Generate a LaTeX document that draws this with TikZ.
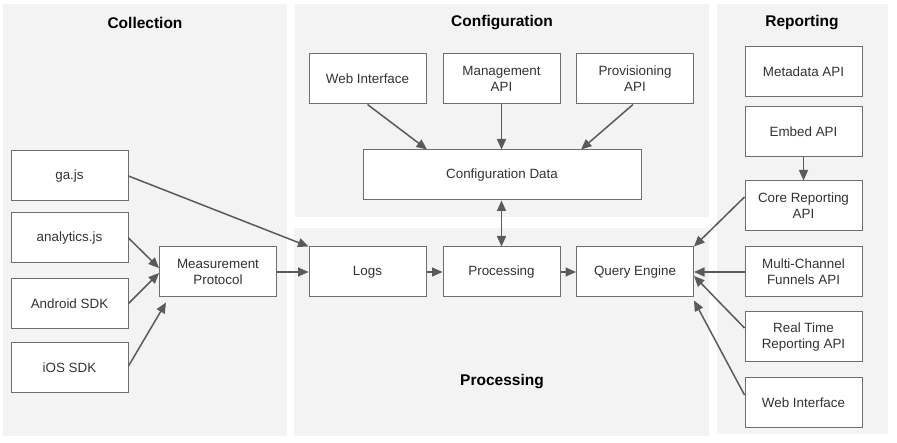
\documentclass[tikz,border=0pt]{standalone}
\usepackage{fontspec}
\setmainfont{Liberation Sans}
\usetikzlibrary{arrows.meta}
\definecolor{panelgray}{HTML}{F3F3F3}
\definecolor{boxline}{HTML}{6E6E6E}
\definecolor{arrowgray}{HTML}{5A5A5A}
\begin{document}
\begin{tikzpicture}[x=1pt,y=-1pt,
  panel/.style={fill=panelgray,draw=none},
  title/.style={font=\fontsize{15.5}{18}\selectfont\bfseries,text=black},
  box/.style={draw=boxline,line width=1pt,fill=white,minimum width=117pt,minimum height=50pt,inner sep=0pt,align=center,font=\fontsize{13.4}{16}\selectfont,text=black!80},
  conn/.style={draw=arrowgray,line width=1.5pt,-{Triangle[length=10.5pt,width=9pt]}},
  dconn/.style={draw=arrowgray,line width=1.5pt,{Triangle[length=10.5pt,width=9pt]}-{Triangle[length=10.5pt,width=9pt]}}]
\useasboundingbox (0,0) rectangle (897,443);
\fill[white] (0,0) rectangle (897,443);
% panels
\path[panel] (3,4) rectangle (287,436);
\path[panel] (295,4) rectangle (709,217);
\path[panel] (294,228) rectangle (709,436);
\path[panel] (717,4) rectangle (888,434);
% titles
\node[title] (tcol) at (145,23) {Collection};
\node[title] (tcfg) at (502,23) {Configuration};
\node[title] (trep) at (802,23) {Reporting};
\node[title] (tproc) at (502,382) {Processing};
% collection
\node[box] (gajs) at (69.5,176) {ga.js};
\node[box] (analytics) at (69.5,238) {analytics.js};
\node[box] (android) at (69.5,303.5) {Android SDK};
\node[box] (ios) at (69.5,368) {iOS SDK};
\node[box] (meas) at (218,272) {Measurement\\Protocol};
% processing
\node[box] (logs) at (367.5,272) {Logs};
\node[box] (proc) at (501.5,272) {Processing};
\node[box] (query) at (635,272) {Query Engine};
% configuration
\node[box] (cweb) at (367.5,79) {Web Interface};
\node[box] (mgmt) at (501.5,79) {Management\\API};
\node[box] (prov) at (635,79) {Provisioning\\API};
\node[box,minimum width=278pt] (cdata) at (502,175) {Configuration Data};
% reporting
\node[box] (meta) at (803.5,72) {Metadata API};
\node[box] (embed) at (803.5,132) {Embed API};
\node[box] (core) at (803.5,206) {Core Reporting\\API};
\node[box] (mcf) at (803.5,272) {Multi-Channel\\Funnels API};
\node[box] (rt) at (803.5,337) {Real Time\\Reporting API};
\node[box] (rweb) at (803.5,403) {Web Interface};
% connectors
\draw[conn] (gajs.east) -- (logs.north west);
\draw[conn] (analytics.east) -- ([yshift=4pt]meas.west);
\draw[conn] (android.east) -- ([yshift=-1pt]meas.west);
\draw[conn] ([yshift=2pt]ios.east) -- ([xshift=7pt,yshift=-5pt]meas.south west);
\draw[conn] (meas.east) -- (logs.west);
\draw[conn] (logs.east) -- (proc.west);
\draw[conn] (proc.east) -- (query.west);
\draw[conn] (cweb.south) -- ([xshift=-75pt]cdata.north);
\draw[conn] (mgmt.south) -- ([xshift=-0.5pt]cdata.north);
\draw[conn] ([xshift=-2pt]prov.south) -- ([xshift=79pt]cdata.north);
\draw[dconn] ([xshift=-0.5pt]cdata.south) -- (proc.north);
\draw[conn] (embed.south) -- (core.north);
\draw[conn] ([yshift=9pt]core.west) -- (query.north east);
\draw[conn] (mcf.west) -- (query.east);
\draw[conn] ([yshift=9pt]rt.west) -- ([yshift=-4pt]query.east);
\draw[conn] ([yshift=8pt]rweb.west) -- ([yshift=-3pt]query.south east);
\end{tikzpicture}
\end{document}
